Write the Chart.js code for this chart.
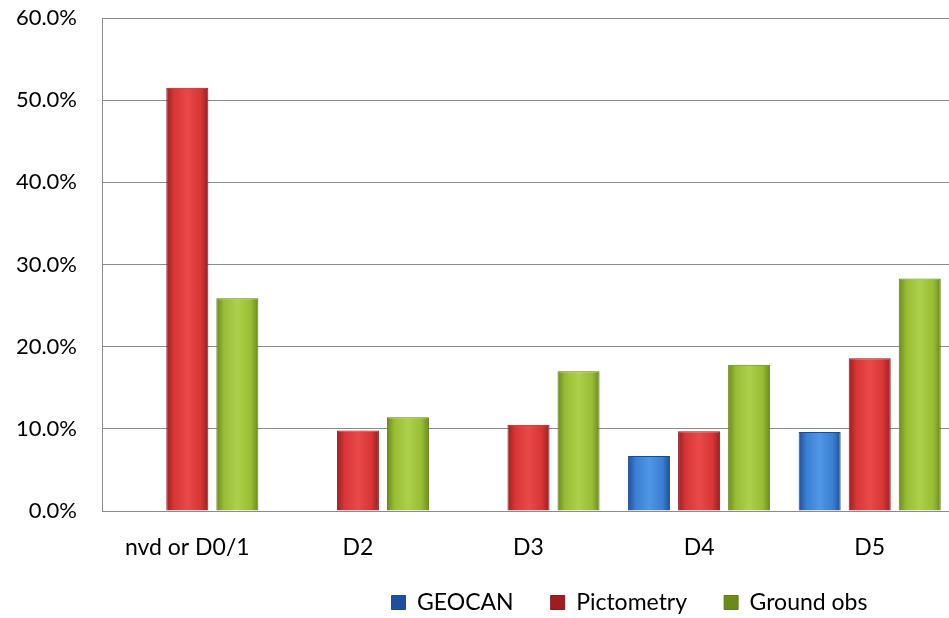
<!DOCTYPE html>
<html>
<head>
<meta charset="utf-8">
<script src="https://cdn.jsdelivr.net/npm/chart.js@4/dist/chart.umd.min.js"></script>
<style>
  html, body { margin: 0; padding: 0; background: #fff; overflow: hidden; }
  #wrap { position: relative; width: 955px; height: 618px; }
</style>
</head>
<body>
<div id="wrap"><canvas id="grafica"></canvas></div>
<script>
const categorias = ['nvd or D0/1', 'D2', 'D3', 'D4', 'D5'];
const geocan = [null, null, null, 6.7, 9.6];
const pictometry = [51.5, 9.8, 10.5, 9.7, 18.6];
const groundObs = [25.9, 11.4, 17.0, 17.8, 28.3];
const ticksY = [0, 10, 20, 30, 40, 50, 60];

const fuente = 'Lato, "Open Sans", sans-serif';

// degradado horizontal tipo Excel para cada barra
function relleno(base, oscuro, claro) {
    return ctx => {
        const el = ctx.element;
        if (ctx.type !== 'data' || !el || !el.width) return base;
        const g = ctx.chart.ctx.createLinearGradient(el.x - el.width / 2, 0, el.x + el.width / 2, 0);
        g.addColorStop(0, oscuro);
        g.addColorStop(0.18, base);
        g.addColorStop(0.5, claro);
        g.addColorStop(0.82, base);
        g.addColorStop(1, oscuro);
        return g;
    };
}

// la leyenda va abajo a la derecha, como en el original
const moverLeyenda = {
    id: 'moverLeyenda',
    afterLayout(chart) {
        const lg = chart.legend;
        lg.left += 152;
        lg.right += 152;
        lg.top -= 8;
        lg.bottom -= 8;
    }
};

const ctx = document.getElementById('grafica').getContext('2d');
const miGrafica = new Chart(ctx, {
    type: 'bar',
    data: {
        labels: categorias,
        datasets: [{
            label: 'GEOCAN',
            data: geocan,
            backgroundColor: relleno('#3a7fd0', '#1f4f9c', '#4f96e6'),
            borderColor: '#1d4a8f',
            borderWidth: 1
        }, {
            label: 'Pictometry',
            data: pictometry,
            backgroundColor: relleno('#d63636', '#9c1e20', '#e84a48'),
            borderColor: '#8e1a1c',
            borderWidth: 1
        }, {
            label: 'Ground obs',
            data: groundObs,
            backgroundColor: relleno('#98bd35', '#6a8a1c', '#aed04a'),
            borderColor: '#5f7d18',
            borderWidth: 1
        }]
    },
    options: {
        responsive: true,
        maintainAspectRatio: false,
        animation: false,
        datasets: { bar: { categoryPercentage: 0.88, barPercentage: 0.84 } },
        layout: { padding: { top: 18, bottom: -14, left: 0, right: 0 } },
        plugins: {
            title: { display: false },
            tooltip: { enabled: false },
            legend: {
                position: 'bottom',
                align: 'center',
                labels: {
                    boxWidth: 14,
                    boxHeight: 14,
                    padding: 37,
                    color: '#000',
                    font: { family: fuente, size: 23 }
                }
            }
        },
        scales: {
            x: {
                grid: { display: false, drawTicks: false },
                border: { display: true, color: '#8c8c8c' },
                ticks: { color: '#000', padding: 23, font: { family: fuente, size: 23 } },
                afterFit: s => { s.height = 51; }
            },
            y: {
                min: 0,
                max: 60,
                afterBuildTicks: s => { s.ticks = ticksY.map(v => ({ value: v })); },
                grid: { color: '#8c8c8c', drawTicks: false },
                border: { display: true, color: '#8c8c8c' },
                ticks: {
                    color: '#000',
                    padding: 25,
                    font: { family: fuente, size: 22 },
                    callback: v => v.toFixed(1) + '%'
                },
                afterFit: s => {
                    s.width = 102;
                    s.paddingTop = 0;
                    s.paddingBottom = 0;
                }
            }
        }
    },
    plugins: [moverLeyenda]
});
miGrafica.update();
</script>
</body>
</html>
